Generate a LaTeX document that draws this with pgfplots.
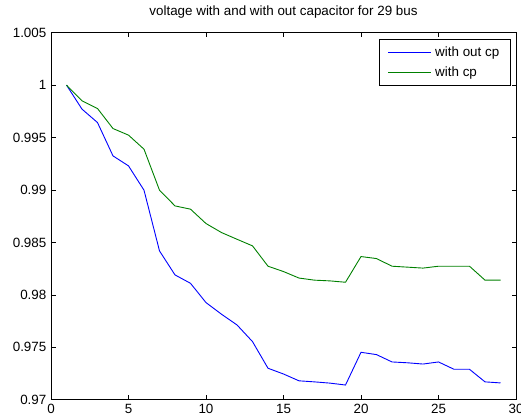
\documentclass[border=0pt]{standalone}
\usepackage{pgfplots}
\pgfplotsset{compat=1.18}
\usepackage{fontspec}
\setmainfont{Liberation Sans}
\definecolor{mblue}{RGB}{0,0,255}
\definecolor{mgreen}{RGB}{0,128,0}
\pgfplotsset{legend image code/.code={%
  \draw[#1] (0pt,0pt) -- (43pt,0pt);
  \path[draw=none, fill=none] (0pt,-10pt) rectangle (45pt,10pt);}}
\begin{document}
\fontsize{13.4}{16}\selectfont
\begin{tikzpicture}
\begin{axis}[
    scale only axis,
    width=465pt, height=367pt,
    xmin=0, xmax=30, ymin=0.97, ymax=1.005,
    xtick={0,5,...,30},
    ytick={0.97,0.975,0.98,0.985,0.99,0.995,1,1.005},
    scaled y ticks=false,
    /pgf/number format/assume math mode=true,
    yticklabel style={/pgf/number format/.cd, fixed, precision=3},
    axis line style={line width=0.8pt},
    major tick length=4.5pt,
    tick style={black, line width=0.6pt},
    title={voltage with and with out capacitor for 29 bus},
    title style={at={(0.5,1)}, anchor=base, yshift=11.5pt, inner sep=0pt},
    legend cell align=left,
    legend style={at={(1,1)}, anchor=north east, xshift=-6pt, yshift=-6.5pt,
        inner xsep=8.5pt, inner ysep=3pt},
]
\addplot[color=mblue, line width=0.9pt, no marks]
  coordinates {
(1,1.0000) (2,0.99771) (3,0.99643) (4,0.99325) (5,0.99230) (6,0.98998)
(7,0.98419) (8,0.98190) (9,0.98110) (10,0.97926) (11,0.97815) (12,0.97713)
(13,0.97554) (14,0.97300) (15,0.97245) (16,0.97180) (17,0.97170) (18,0.97158)
(19,0.97140) (20,0.97452) (21,0.97430) (22,0.97360) (23,0.97352) (24,0.97340)
(25,0.97360) (26,0.97290) (27,0.97290) (28,0.97170) (29,0.97160)
};
\addlegendentry{with out cp}
\addplot[color=mgreen, line width=0.9pt, no marks]
  coordinates {
(1,1.0000) (2,0.99850) (3,0.99777) (4,0.99586) (5,0.99523) (6,0.99389)
(7,0.98998) (8,0.98848) (9,0.98817) (10,0.98680) (11,0.98594) (12,0.98530)
(13,0.98467) (14,0.98273) (15,0.98222) (16,0.98160) (17,0.98140) (18,0.98133)
(19,0.98120) (20,0.98365) (21,0.98346) (22,0.98273) (23,0.98264) (24,0.98255)
(25,0.98273) (26,0.98273) (27,0.98273) (28,0.98140) (29,0.98140)
};
\addlegendentry{with cp}
\end{axis}
\pgfresetboundingbox
\path (current axis.south west) ++(-51pt,-19pt) coordinate (bl);
\path (current axis.north east) ++(5pt,32.7pt) coordinate (tr);
\path (bl) rectangle (tr);
\end{tikzpicture}
\end{document}
